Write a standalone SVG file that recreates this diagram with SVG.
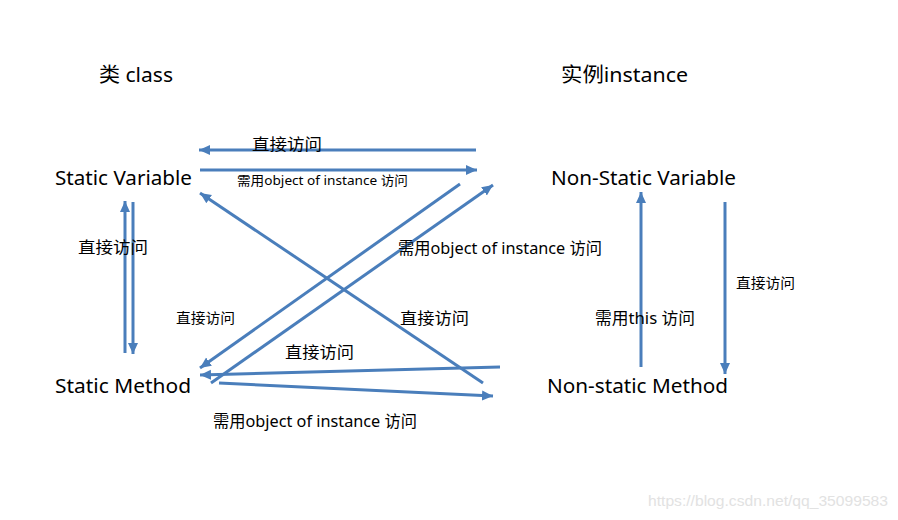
<svg xmlns="http://www.w3.org/2000/svg" width="898" height="520" viewBox="0 0 898 520">
<defs>
<style>
.t{font-family:"Noto Sans","Noto Sans CJK SC",sans-serif;fill:#000}
.big{font-size:20px}
.mid{font-size:16px}
.sm{font-size:14px}
.xs{font-size:13px}
.c line{stroke:#4A7EBB;stroke-width:3;fill:none}
.a{marker-end:url(#ah)}
</style>
<marker id="ah" markerUnits="userSpaceOnUse" markerWidth="12" markerHeight="12" viewBox="0 0 12 12" refX="11" refY="6" orient="auto">
<path d="M0,1 L11,6 L0,11 Z" fill="#4A7EBB"/>
</marker>
</defs>
<rect width="898" height="520" fill="#fff"/>
<text class="t big" x="99" y="82" textLength="74" lengthAdjust="spacingAndGlyphs">类 class</text>
<text class="t big" x="561" y="82" textLength="127" lengthAdjust="spacingAndGlyphs">实例instance</text>
<g id="static-variable"><text class="t big" x="55" y="185" textLength="137" lengthAdjust="spacingAndGlyphs">Static Variable</text></g>
<g id="static-method"><text class="t big" x="55" y="393" textLength="136" lengthAdjust="spacingAndGlyphs">Static Method</text></g>
<g id="non-static-variable"><text class="t big" x="551" y="185" textLength="185" lengthAdjust="spacingAndGlyphs">Non-Static Variable</text></g>
<g id="non-static-method"><text class="t big" x="547" y="393" textLength="181" lengthAdjust="spacingAndGlyphs">Non-static Method</text></g>
<g class="c" id="connectors">
<line class="a" x1="476" y1="150" x2="199" y2="150"/>
<line class="a" x1="200" y1="170" x2="477" y2="170"/>
<line class="a" x1="125" y1="353" x2="125" y2="201"/>
<line class="a" x1="133" y1="202" x2="133" y2="354"/>
<line class="a" x1="460" y1="184" x2="200" y2="368"/>
<line class="a" x1="211" y1="383" x2="493" y2="185"/>
<line class="a" x1="483" y1="383" x2="200" y2="193"/>
<line class="a" x1="500" y1="367" x2="200" y2="375"/>
<line class="a" x1="219" y1="383" x2="493" y2="396"/>
<line class="a" x1="641" y1="367" x2="641" y2="192"/>
<line class="a" x1="725" y1="202" x2="725" y2="374"/>
</g>
<g id="labels">
<text class="t mid" x="252" y="150" textLength="70" lengthAdjust="spacingAndGlyphs">直接访问</text>
<text class="t xs" x="237" y="185" textLength="171" lengthAdjust="spacingAndGlyphs">需用object of instance 访问</text>
<text class="t mid" x="78" y="253" textLength="70" lengthAdjust="spacingAndGlyphs">直接访问</text>
<text class="t sm" x="176" y="323" textLength="59" lengthAdjust="spacingAndGlyphs">直接访问</text>
<text class="t mid" x="398" y="254" textLength="204" lengthAdjust="spacingAndGlyphs">需用object of instance 访问</text>
<text class="t mid" x="400" y="324" textLength="69" lengthAdjust="spacingAndGlyphs">直接访问</text>
<text class="t mid" x="285" y="358" textLength="69" lengthAdjust="spacingAndGlyphs">直接访问</text>
<text class="t mid" x="213" y="427" textLength="204" lengthAdjust="spacingAndGlyphs">需用object of instance 访问</text>
<text class="t mid" x="595" y="324" textLength="100" lengthAdjust="spacingAndGlyphs">需用this 访问</text>
<text class="t sm" x="736" y="288" textLength="59" lengthAdjust="spacingAndGlyphs">直接访问</text>
</g>
<text x="648" y="506" font-family="'Liberation Sans',Arial,sans-serif" font-size="14" fill="#e2e2e2" textLength="240" lengthAdjust="spacingAndGlyphs">https://blog.csdn.net/qq_35099583</text>
</svg>
